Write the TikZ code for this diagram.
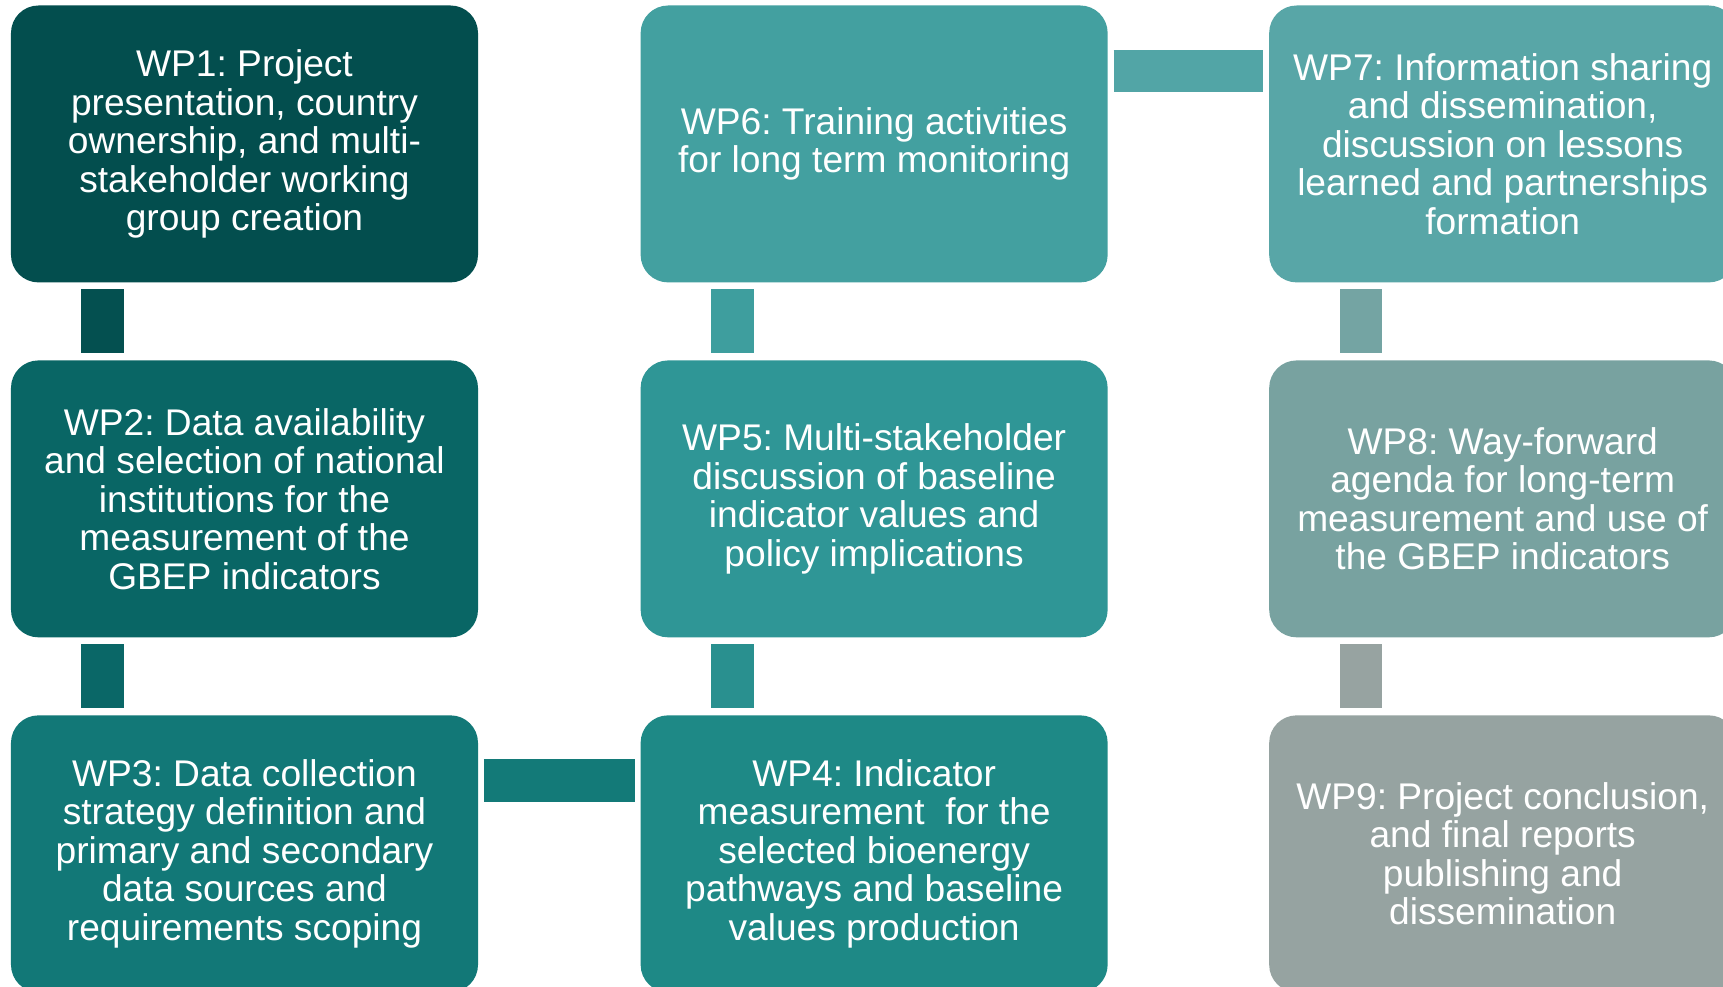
\documentclass[tikz,border=0pt]{standalone}
\usepackage{fontspec}
\setmainfont{Liberation Sans}
\frenchspacing
\definecolor{cA}{HTML}{034E4E}
\definecolor{cB}{HTML}{096665}
\definecolor{cC}{HTML}{127877}
\definecolor{cD}{HTML}{1E8986}
\definecolor{cE}{HTML}{2F9696}
\definecolor{cF}{HTML}{43A0A0}
\definecolor{cG}{HTML}{58A6A7}
\definecolor{cH}{HTML}{78A2A0}
\definecolor{cI}{HTML}{96A3A1}
\definecolor{kA}{HTML}{045050}
\definecolor{kB}{HTML}{0A6767}
\definecolor{kC}{HTML}{3E9E9E}
\definecolor{kD}{HTML}{29908F}
\definecolor{kE}{HTML}{74A4A3}
\definecolor{kF}{HTML}{97A3A1}
\definecolor{kG}{HTML}{52A5A6}
\definecolor{kH}{HTML}{137A78}
\tikzset{
  wpbox/.style={rectangle, rounded corners=12.5pt, inner sep=0pt,
    minimum width=212.5pt, minimum height=126pt, text=white, align=center,
    font=\fontsize{16.9}{17.5}\selectfont\frenchspacing},
  vbar/.style={line width=19.5pt, shorten <=3pt, shorten >=3pt},
  hbar/.style={line width=19.5pt, shorten <=2.5pt, shorten >=2.5pt},
}
\begin{document}
\begin{tikzpicture}[x=0.5pt,y=-0.5pt]
\fill[white] (0,0) rectangle (1568,898);
\useasboundingbox (0,0) rectangle (1568,898);
\begin{scope}
\clip (0,0) rectangle (1568,898);
% column 1
\node[wpbox, fill=cA] (wp1) at (222.5,131) {WP1: Project\\presentation, country\\ownership, and multi-\\stakeholder working\\group creation};
\node[wpbox, fill=cB] (wp2) at (222.5,454) {WP2: Data availability\\and selection of national\\institutions for the\\measurement of the\\GBEP indicators};
\node[wpbox, fill=cC] (wp3) at (222.5,777) {WP3: Data collection\\strategy definition and\\primary and secondary\\data sources and\\requirements scoping};
% column 2
\node[wpbox, fill=cF] (wp6) at (795.5,131) {WP6: Training activities\\for long term monitoring};
\node[wpbox, fill=cE] (wp5) at (795.5,454) {WP5: Multi-stakeholder\\discussion of baseline\\indicator values and\\policy implications};
\node[wpbox, fill=cD] (wp4) at (795.5,777) {WP4: Indicator\\measurement\ \ for the\\selected bioenergy\\pathways and baseline\\values production};
% column 3
\node[wpbox, fill=cG] (wp7) at (1367.5,131) {WP7: Information sharing\\and dissemination,\\discussion on lessons\\learned and partnerships\\formation};
\node[wpbox, fill=cH] (wp8) at (1367.5,454) {WP8: Way-forward\\agenda for long-term\\measurement and use of\\the GBEP indicators};
\node[wpbox, fill=cI] (wp9) at (1367.5,777) {WP9: Project conclusion,\\and final reports\\publishing and\\dissemination};
% connectors
\draw[vbar, kA] ([xshift=42pt]wp1.south west) -- ([xshift=42pt]wp2.north west);
\draw[vbar, kB] ([xshift=42pt]wp2.south west) -- ([xshift=42pt]wp3.north west);
\draw[vbar, kC] ([xshift=42pt]wp6.south west) -- ([xshift=42pt]wp5.north west);
\draw[vbar, kD] ([xshift=42pt]wp5.south west) -- ([xshift=42pt]wp4.north west);
\draw[vbar, kE] ([xshift=42pt]wp7.south west) -- ([xshift=42pt]wp8.north west);
\draw[vbar, kF] ([xshift=42pt]wp8.south west) -- ([xshift=42pt]wp9.north west);
\draw[hbar, kG] ([yshift=-30pt]wp6.north east) -- ([yshift=-30pt]wp7.north west);
\draw[hbar, kH] ([yshift=-30pt]wp3.north east) -- ([yshift=-30pt]wp4.north west);
\end{scope}
\end{tikzpicture}
\end{document}
